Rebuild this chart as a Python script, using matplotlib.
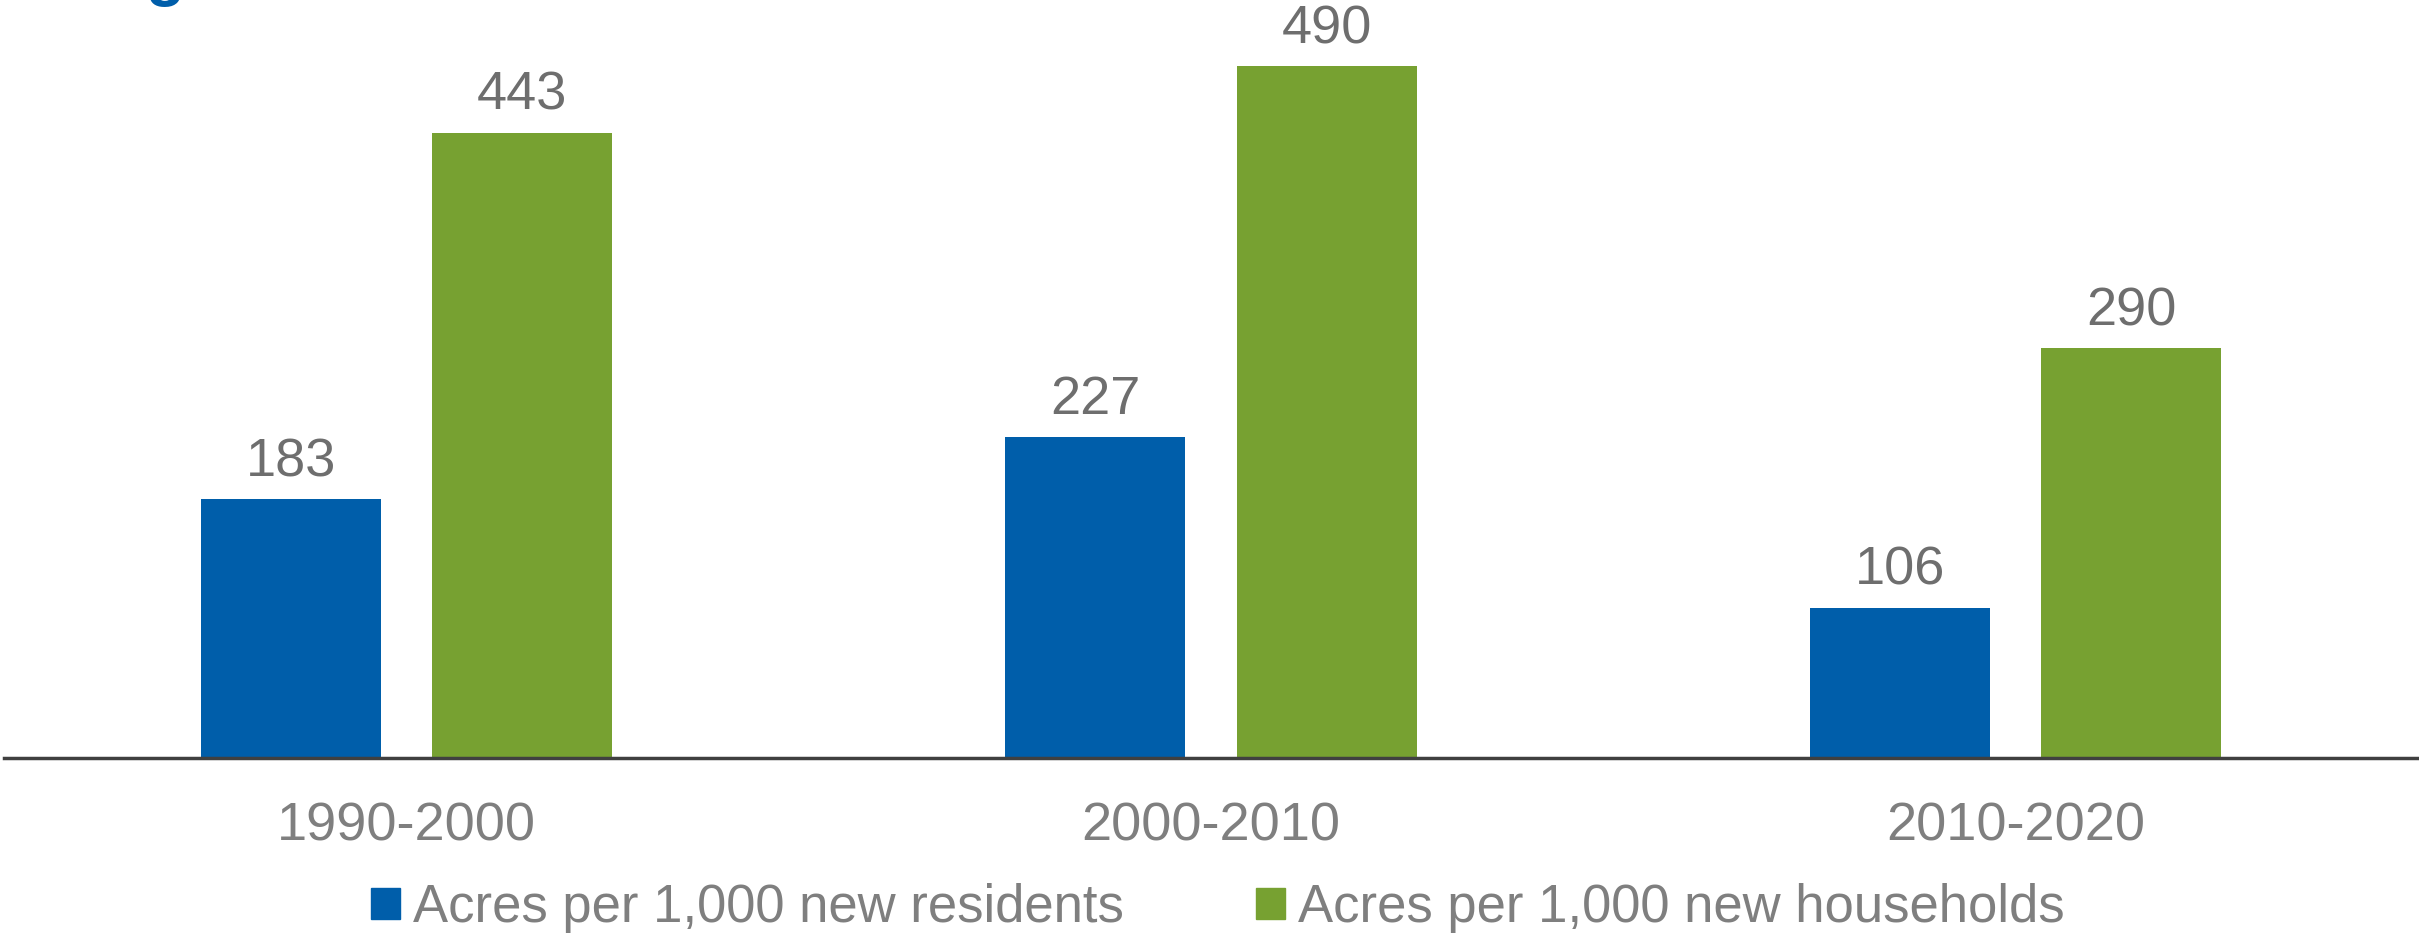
import matplotlib
matplotlib.use("Agg")
import matplotlib.pyplot as plt
import numpy as np
from matplotlib.patches import Patch

plt.rcParams['font.family'] = ['Liberation Sans', 'DejaVu Sans']

categories = ["1990-2000", "2000-2010", "2010-2020"]
residents = [183, 227, 106]
households = [443, 490, 290]
series_names = ["Acres per 1,000 new residents", "Acres per 1,000 new households"]

BLUE = "#005EAA"
GREEN = "#77A131"
GREY = "#7F7F7F"
LABEL_GREY = "#6E6E6E"

W, H = 2419, 938
fig = plt.figure(figsize=(W / 100, H / 100), dpi=100)
ax = fig.add_axes([4 / W, 1 - 757.5 / H, (2418 - 4) / W, 757.5 / H])

x = np.arange(len(categories))
bw = 0.224
off = 0.1437
b1 = ax.bar(x - off, residents, bw, color=BLUE)
b2 = ax.bar(x + off, households, bw, color=GREEN)

for bars, vals in ((b1, residents), (b2, households)):
    for r, v in zip(bars, vals):
        ax.annotate(f"{v}", (r.get_x() + r.get_width() / 2, v), xytext=(0, 23),
                    textcoords="offset pixels", ha="center", va="baseline",
                    fontsize=39, color=LABEL_GREY)

ax.set_xlim(-0.5, 2.5)
ax.set_ylim(0, 537)
for s in ("top", "right", "left"):
    ax.spines[s].set_visible(False)
ax.spines["bottom"].set_color("#404040")
ax.spines["bottom"].set_linewidth(2.5)
ax.set_yticks([])
ax.set_xticks(x)
ax.set_xticklabels(categories, fontsize=39, color=GREY)
ax.tick_params(axis="x", length=0, pad=32)

handles = [Patch(color=BLUE), Patch(color=GREEN)]
fig.legend(handles, series_names, loc="center", bbox_to_anchor=(1218 / W, 1 - 908 / H),
           ncol=2, frameon=False, fontsize=37.9, labelcolor=GREY,
           handlelength=0.55, handleheight=0.55, handletextpad=0.25, columnspacing=2.5)

# descender of cropped title at top-left
fig.text(165 / W, 1 + 6 / H, "g", ha="center", va="baseline", fontsize=46,
         fontweight="bold", color=BLUE)

fig.savefig("out.png", dpi=100)
